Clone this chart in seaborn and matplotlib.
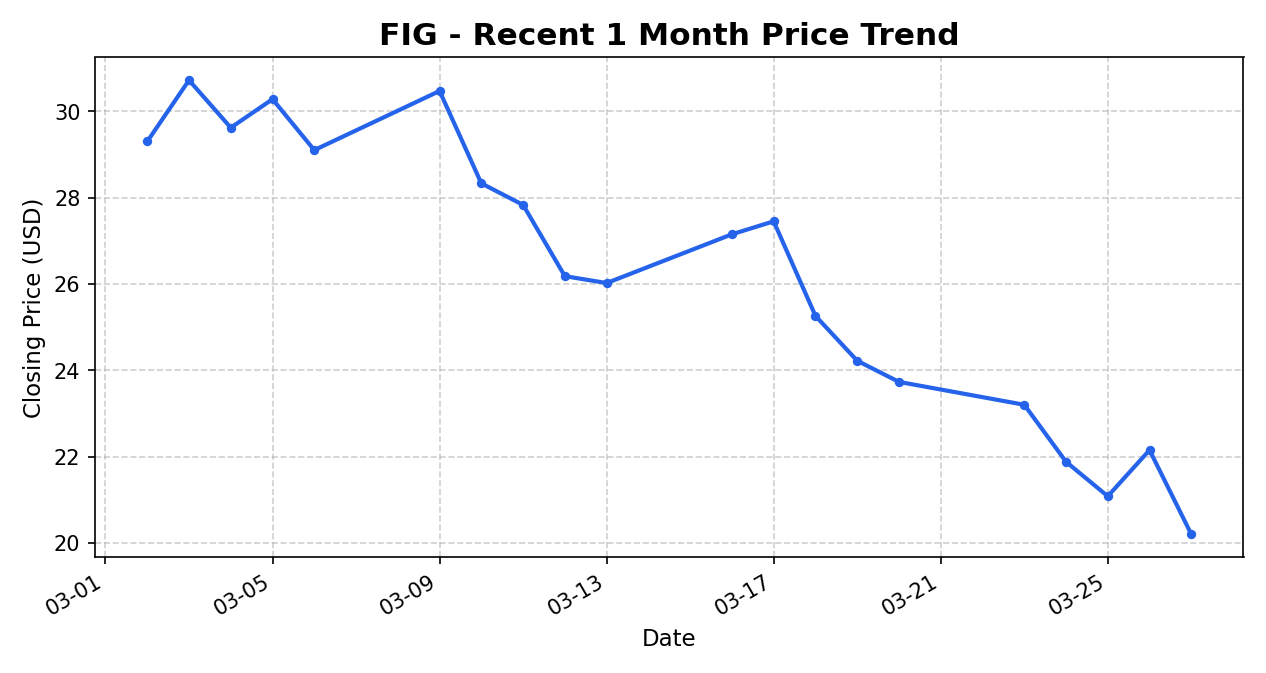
import matplotlib
matplotlib.use("Agg")
import matplotlib.pyplot as plt
import matplotlib.dates as mdates
import seaborn as sns
import pandas as pd

dates = ["2026-03-02","2026-03-03","2026-03-04","2026-03-05","2026-03-06","2026-03-09","2026-03-10",
         "2026-03-11","2026-03-12","2026-03-13","2026-03-16","2026-03-17","2026-03-18","2026-03-19",
         "2026-03-20","2026-03-23","2026-03-24","2026-03-25","2026-03-26","2026-03-27"]
prices = [29.30,30.72,29.62,30.28,29.10,30.47,28.33,27.83,26.18,26.02,27.15,27.45,25.26,24.22,
          23.73,23.20,21.88,21.08,22.15,20.20]

df = pd.DataFrame({"Date": pd.to_datetime(dates), "Close": prices})

fig, ax = plt.subplots(figsize=(8.44, 4.49), dpi=150)
sns.lineplot(data=df, x="Date", y="Close", ax=ax, color="#2563eb", linewidth=2,
             marker="o", markersize=4.5, markeredgewidth=0)
ax.set_title("FIG - Recent 1 Month Price Trend", fontsize=15, fontweight="bold")
ax.set_xlabel("Date", fontsize=11)
ax.set_ylabel("Closing Price (USD)", fontsize=11)
ax.grid(True, linestyle="--", alpha=0.6)
ax.xaxis.set_major_locator(mdates.DayLocator(bymonthday=[1,5,9,13,17,21,25]))
ax.xaxis.set_major_formatter(mdates.DateFormatter("%m-%d"))
ax.set_yticks([20,22,24,26,28,30])
fig.autofmt_xdate()
fig.tight_layout()
fig.savefig("out.png", dpi=150)
